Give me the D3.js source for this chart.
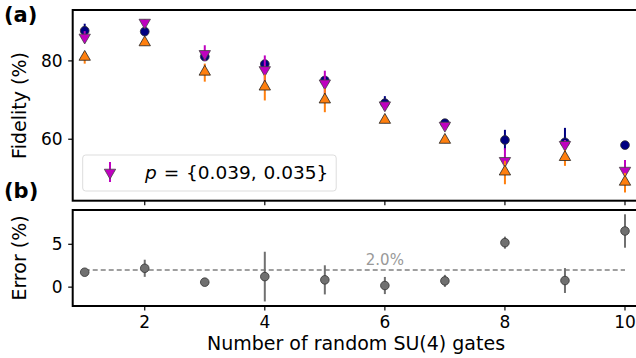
<!DOCTYPE html>
<html><head><meta charset="utf-8">
<script src="https://cdn.jsdelivr.net/npm/d3@7"></script>
<style>body{margin:0;background:#fff}text{font-family:"DejaVu Sans",sans-serif}</style>
</head><body><svg id="c" width="636" height="358"></svg>
<script>
const gates = [1,2,3,4,5,6,7,8,9,10];
const fidA = [87.7,87.5,81.1,79.2,75.0,69.2,64.1,59.8,59.2,58.5];
const fidAErr = [1.8,0.6,0.8,0.8,0.8,1.8,0.5,2.6,3.7,0.3];
const fidB = [86.2,90.0,82.0,77.9,74.5,68.9,63.7,54.7,58.8,52.2];
const fidBErr = [1.4,0.6,2.0,3.5,3.0,0.6,0.6,3.0,1.0,2.5];
const fidC = [80.8,84.5,77.0,73.2,69.9,64.7,59.6,51.5,55.2,48.9];
const fidCErr = [1.5,0.6,2.3,3.3,3.0,0.6,0.6,3.0,2.0,2.5];
const errV = [1.74,2.2,0.58,1.23,0.85,0.19,0.73,5.19,0.77,6.55];
const errE = [0.2,1.0,0.2,2.9,1.7,1.0,0.7,0.7,1.45,1.95];
const xTicks = [2,4,6,8,10];
const yTicksA = [60,80];
const yTicksB = [0,5];
const avgErr = 2.0;
const legendLabel = ["p", " = {0.039, 0.035}"];

const svg = d3.select("#c");
const x = d3.scaleLinear().domain([0.8,10.2]).range([72.7,637]);
const yA = d3.scaleLinear().domain([44.3,93]).range([200.7,10]);
const yB = d3.scaleLinear().domain([-2.2,9]).range([306,210]);
const FS = 17, LFS = 19;

function axes(y, yt, showX){
  const g = svg.append("g");
  const [x0,x1] = x.range(), [y0,y1] = y.range();
  xTicks.forEach(t=>{
    g.append("line").attr("x1",x(t)).attr("x2",x(t)).attr("y1",y0).attr("y2",y0+4.5).attr("stroke","#000").attr("stroke-width",1.2);
    if(showX) g.append("text").attr("x",x(t)).attr("y",y0+21.5).attr("text-anchor","middle").attr("font-size",FS).text(t);
  });
  yt.forEach(t=>{
    g.append("line").attr("x1",x0-4.5).attr("x2",x0).attr("y1",y(t)).attr("y2",y(t)).attr("stroke","#000").attr("stroke-width",1.2);
    g.append("text").attr("x",x0-10).attr("y",y(t)).attr("dy","0.36em").attr("text-anchor","end").attr("font-size",FS).text(t);
  });
  g.append("rect").attr("x",x0).attr("y",y1).attr("width",x1-x0).attr("height",y0-y1).attr("fill","none").attr("stroke","#000").attr("stroke-width",2);
}

function errbars(g, xs, ys, es, y, color, w){
  g.selectAll(null).data(xs).join("line")
    .attr("x1",(d)=>x(d)).attr("x2",(d)=>x(d))
    .attr("y1",(d,i)=>y(ys[i]-es[i])).attr("y2",(d,i)=>y(ys[i]+es[i]))
    .attr("stroke",color).attr("stroke-width",w||2);
}
const tri = d3.symbol().type(d3.symbolTriangle).size(56);

// panel a
axes(yA, yTicksA, false);
const ga = svg.append("g");
errbars(ga, gates, fidA, fidAErr, yA, "#000080");
ga.selectAll(null).data(gates).join("circle").attr("cx",d=>x(d)).attr("cy",(d,i)=>yA(fidA[i])).attr("r",4.4)
  .attr("fill","#000080").attr("stroke","#333").attr("stroke-width",0.8);
errbars(ga, gates, fidB, fidBErr, yA, "#bf00bf");
ga.selectAll(null).data(gates).join("path").attr("d",tri)
  .attr("transform",(d,i)=>`translate(${x(d)},${yA(fidB[i])+0.8}) rotate(180)`)
  .attr("fill","#bf00bf").attr("stroke","#444").attr("stroke-width",0.8);
errbars(ga, gates, fidC, fidCErr, yA, "#ff7f0e");
ga.selectAll(null).data(gates).join("path").attr("d",tri)
  .attr("transform",(d,i)=>`translate(${x(d)},${yA(fidC[i])-0.8})`)
  .attr("fill","#ff7f0e").attr("stroke","#222").attr("stroke-width",0.8);

// legend
const lg = svg.append("g");
lg.append("rect").attr("x",82.7).attr("y",155).attr("width",253.5).attr("height",36).attr("rx",3)
  .attr("fill","#fff").attr("fill-opacity",0.8).attr("stroke","#ddd").attr("stroke-width",1);
lg.append("line").attr("x1",110).attr("x2",110).attr("y1",162).attr("y2",182).attr("stroke","#bf00bf").attr("stroke-width",2);
lg.append("path").attr("d",tri).attr("transform","translate(110,172.5) rotate(180)").attr("fill","#bf00bf").attr("stroke","#444").attr("stroke-width",0.8);
const lt = lg.append("text").attr("x",145).attr("y",179).attr("font-size",18.5).attr("word-spacing",1);
lt.append("tspan").attr("font-style","italic").text(legendLabel[0]);
lt.append("tspan").text(legendLabel[1]);

// panel b
axes(yB, yTicksB, true);
const gb = svg.append("g");
gb.append("line").attr("x1",x(gates[0])).attr("x2",x(gates[gates.length-1])).attr("y1",yB(avgErr)).attr("y2",yB(avgErr))
  .attr("stroke","#808080").attr("stroke-width",1.3).attr("stroke-dasharray","5,3");
gb.append("text").attr("x",x(6)).attr("y",yB(avgErr)-5).attr("text-anchor","middle").attr("font-size",15).attr("fill","#999").text(avgErr.toFixed(1)+"%");
errbars(gb, gates, errV, errE, yB, "#707070");
gb.selectAll(null).data(gates).join("circle").attr("cx",d=>x(d)).attr("cy",(d,i)=>yB(errV[i])).attr("r",4.3)
  .attr("fill","#707070").attr("stroke","#333").attr("stroke-width",0.8);

// labels
svg.append("text").attr("transform","translate(26,105.5) rotate(-90)").attr("text-anchor","middle").attr("font-size",LFS).text("Fidelity (%)");
svg.append("text").attr("transform","translate(26,258) rotate(-90)").attr("text-anchor","middle").attr("font-size",LFS).text("Error (%)");
svg.append("text").attr("x",356).attr("y",350).attr("text-anchor","middle").attr("font-size",LFS).text("Number of random SU(4) gates");
svg.append("text").attr("x",4).attr("y",22).attr("font-size",21).attr("font-weight","bold").text("(a)");
svg.append("text").attr("x",4).attr("y",198).attr("font-size",21).attr("font-weight","bold").text("(b)");
</script></body></html>
